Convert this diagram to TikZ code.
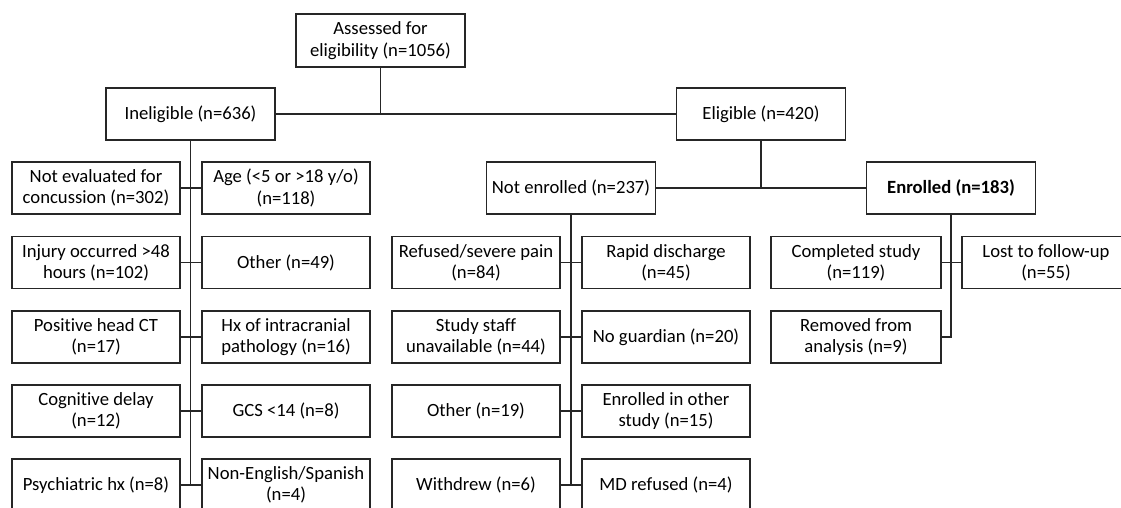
\documentclass[tikz,border=0pt]{standalone}
\usepackage{fontspec}
\setmainfont[Ligatures=NoCommon]{Carlito}
\begin{document}
\begin{tikzpicture}[x=0.75pt,y=-0.75pt,
  box/.style={draw=black!85, line width=0.8pt, rectangle, align=center,
    minimum width=168*0.75pt, minimum height=52*0.75pt, inner sep=0pt,
    font=\fontsize{14}{16}\selectfont},
  conn/.style={draw=black!85, line width=0.9pt}]
\useasboundingbox (0,0) rectangle (1121,507);
\clip (0,0) rectangle (1121,507);
% top levels
\node[box, minimum width=169*0.75pt, minimum height=53*0.75pt] (top) at (380.5,40.5) {Assessed for\\eligibility (n=1056)};
\node[box, minimum width=169*0.75pt] (inel) at (190.5,114) {Ineligible (n=636)};
\node[box, minimum width=169*0.75pt] (elig) at (761,114) {Eligible (n=420)};
\node[box, minimum width=169*0.75pt] (notenr) at (571,188) {Not enrolled (n=237)};
\node[box, minimum width=169*0.75pt] (enr) at (951,188) {\bfseries Enrolled (n=183)};
% ineligible reasons
\node[box] (a1) at (96,188) {Not evaluated for\\concussion (n=302)};
\node[box] (b1) at (286,188) {Age (<5 or >18 y/o)\\(n=118)};
\node[box] (a2) at (96,262.5) {Injury occurred >48\\hours (n=102)};
\node[box] (b2) at (286,262.5) {Other (n=49)};
\node[box] (a3) at (96,337) {Positive head CT\\(n=17)};
\node[box] (b3) at (286,337) {Hx of intracranial\\pathology (n=16)};
\node[box] (a4) at (96,411) {Cognitive delay\\(n=12)};
\node[box] (b4) at (286,411) {GCS <14 (n=8)};
\node[box] (a5) at (96,485) {Psychiatric hx (n=8)};
\node[box] (b5) at (286,485) {Non-English/Spanish\\(n=4)};
% not enrolled reasons
\node[box] (c2) at (476,262.5) {Refused/severe pain\\(n=84)};
\node[box] (d2) at (666,262.5) {Rapid discharge\\(n=45)};
\node[box] (c3) at (476,337) {Study staff\\unavailable (n=44)};
\node[box] (d3) at (666,337) {No guardian (n=20)};
\node[box] (c4) at (476,411) {Other (n=19)};
\node[box] (d4) at (666,411) {Enrolled in other\\study (n=15)};
\node[box] (c5) at (476,485) {Withdrew (n=6)};
\node[box] (d5) at (666,485) {MD refused (n=4)};
% enrolled outcomes
\node[box, minimum width=170*0.75pt] (e2) at (856,262.5) {Completed study\\(n=119)};
\node[box] (f2) at (1046,262.5) {Lost to follow-up\\(n=55)};
\node[box, minimum width=170*0.75pt] (rem) at (856,337) {Removed from\\analysis (n=9)};
% connectors
\draw[conn] (inel.east) -- (elig.west);
\draw[conn] (top.south) -- (top.south |- inel.east);
\draw[conn] (inel.south) -- (inel.south |- a5.east);
\foreach \i in {1,...,5} \draw[conn] (a\i.east) -- (b\i.west);
\draw[conn] (notenr.east) -- (enr.west);
\draw[conn] (elig.south) -- (elig.south |- notenr.east);
\draw[conn] (notenr.south) -- (notenr.south |- c5.east);
\foreach \i in {2,...,5} \draw[conn] (c\i.east) -- (d\i.west);
\draw[conn] (e2.east) -- (f2.west);
\draw[conn] (enr.south) |- (rem.east);
\end{tikzpicture}
\end{document}
